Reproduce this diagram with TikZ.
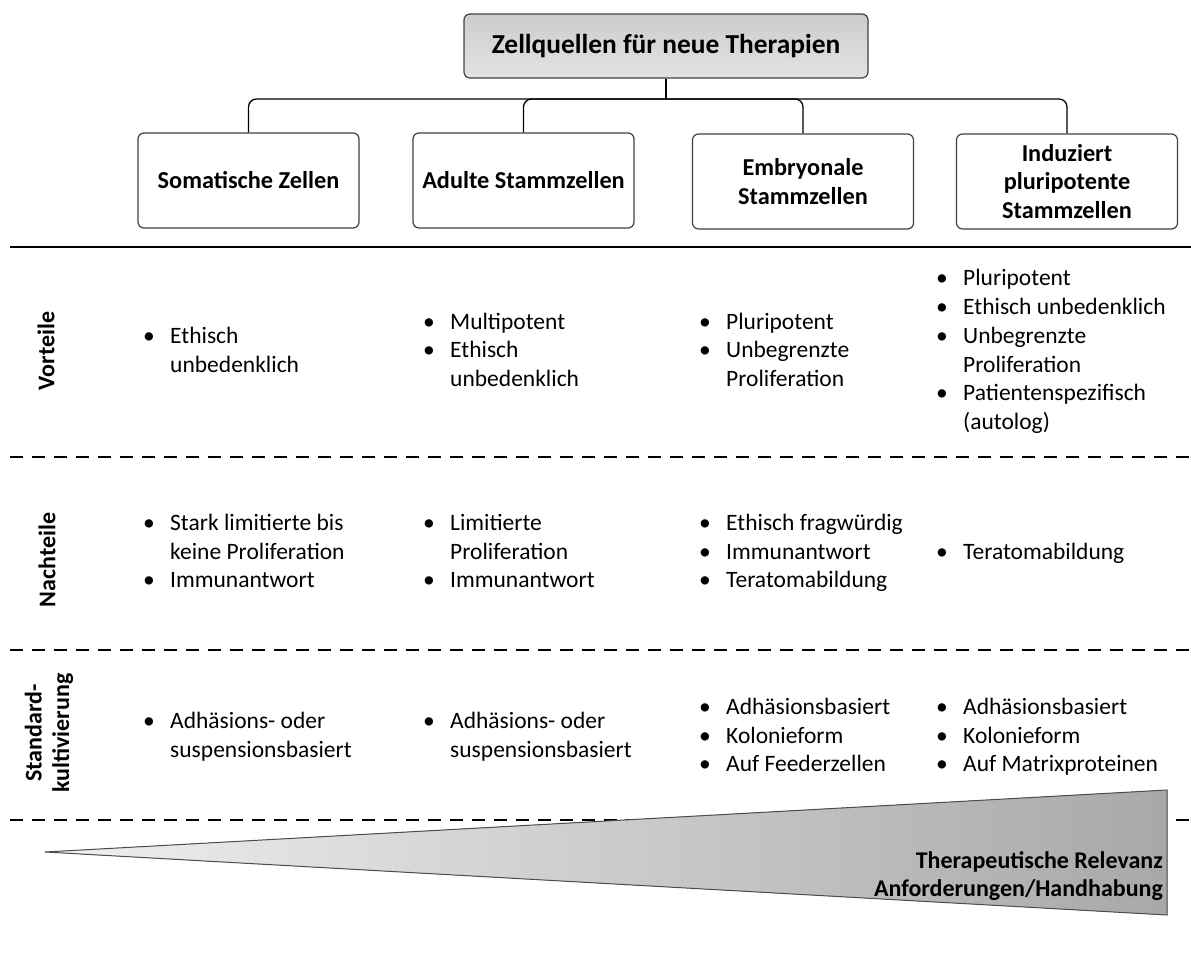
\documentclass[tikz,border=0pt]{standalone}
\usepackage{fontspec}
\setmainfont{Carlito}
\newcommand{\bl}{\strut\makebox[27pt][l]{\textbullet}}
\newcommand{\cl}{\strut\hspace*{27pt}}
\tikzset{
  srcbox/.style={draw=black!75,line width=1.2pt,rounded corners=6pt,minimum width=221pt,minimum height=95pt,align=center,font=\bfseries\fontsize{24.3}{28.5}\selectfont},
  conn/.style={line width=1.3pt,rounded corners=8pt},
  sep/.style={line width=1.3pt},
  rowlabel/.style={rotate=90,align=center,font=\bfseries\fontsize{24}{27.5}\selectfont},
  pts/.style={anchor=west,align=left,inner sep=0pt,font=\fontsize{23.5}{28.7}\selectfont}
}
\begin{document}
\begin{tikzpicture}[x=1pt,y=-1pt]
\useasboundingbox(0,0)rectangle(1191,956);
% Kopf und Zellquellen
\node[draw=black!75,line width=1.2pt,rounded corners=6pt,top color=gray!40,bottom color=gray!22,minimum width=404pt,minimum height=64pt,font=\bfseries\fontsize{27.4}{32}\selectfont](top)at(666,46){Zellquellen für neue Therapien};
\node[srcbox](som)at(248.5,180.5){Somatische Zellen};
\node[srcbox](adu)at(523.5,180.5){Adulte Stammzellen};
\node[srcbox](emb)at(803,181.5){Embryonale\\Stammzellen};
\node[srcbox](ips)at(1067,181.5){Induziert\\pluripotente\\Stammzellen};
\coordinate(hub)at(666,99);
\draw[conn](top.south)--(hub);
\foreach \b in {som,adu,emb,ips}{\draw[conn](hub)-|(\b.north);}
% Trennlinien
\draw[sep](10,247)--(1191,247);
\foreach \y in {457,650,820}{\draw[sep,dash pattern=on 13pt off 9pt](10,\y)--(1191,\y);}
% Zeilen
\node[rowlabel](vor)at(46,351){Vorteile};
\node[rowlabel](nach)at(47,560){Nachteile};
\node[rowlabel](std)at(49,733){Standard-\\kultivierung};
\node[pts](vor1)at(143,352){\bl Ethisch\\\cl unbedenklich};
\node[pts](vor2)at(423,352){\bl Multipotent\\\bl Ethisch\\\cl unbedenklich};
\node[pts](vor3)at(699,352){\bl Pluripotent\\\bl Unbegrenzte\\\cl Proliferation};
\node[pts](vor4)at(936,352){\bl Pluripotent\\\bl Ethisch unbedenklich\\\bl Unbegrenzte\\\cl Proliferation\\\bl Patientenspezifisch\\\cl (autolog)};
\node[pts](nach1)at(143,553.5){\bl Stark limitierte bis\\\cl keine Proliferation\\\bl Immunantwort};
\node[pts](nach2)at(423,553.5){\bl Limitierte\\\cl Proliferation\\\bl Immunantwort};
\node[pts](nach3)at(699,553.5){\bl Ethisch fragwürdig\\\bl Immunantwort\\\bl Teratomabildung};
\node[pts](nach4)at(936,553.5){\bl Teratomabildung};
\node[pts](std1)at(143,737.5){\bl Adhäsions- oder\\\cl suspensionsbasiert};
\node[pts](std2)at(423,737.5){\bl Adhäsions- oder\\\cl suspensionsbasiert};
\node[pts](std3)at(699,737.5){\bl Adhäsionsbasiert\\\bl Kolonieform\\\bl Auf Feederzellen};
\node[pts](std4)at(936,737.5){\bl Adhäsionsbasiert\\\bl Kolonieform\\\bl Auf Matrixproteinen};
% Keil
\filldraw[draw=black!70,line width=1pt,left color=gray!12,right color=gray!68](45,852)--(1167,790)--(1167,915)--cycle;
\node[anchor=east,align=right,inner sep=0pt,font=\bfseries\fontsize{24}{28}\selectfont](rel)at(1163,876){Therapeutische Relevanz\\Anforderungen/Handhabung};
\end{tikzpicture}
\end{document}
